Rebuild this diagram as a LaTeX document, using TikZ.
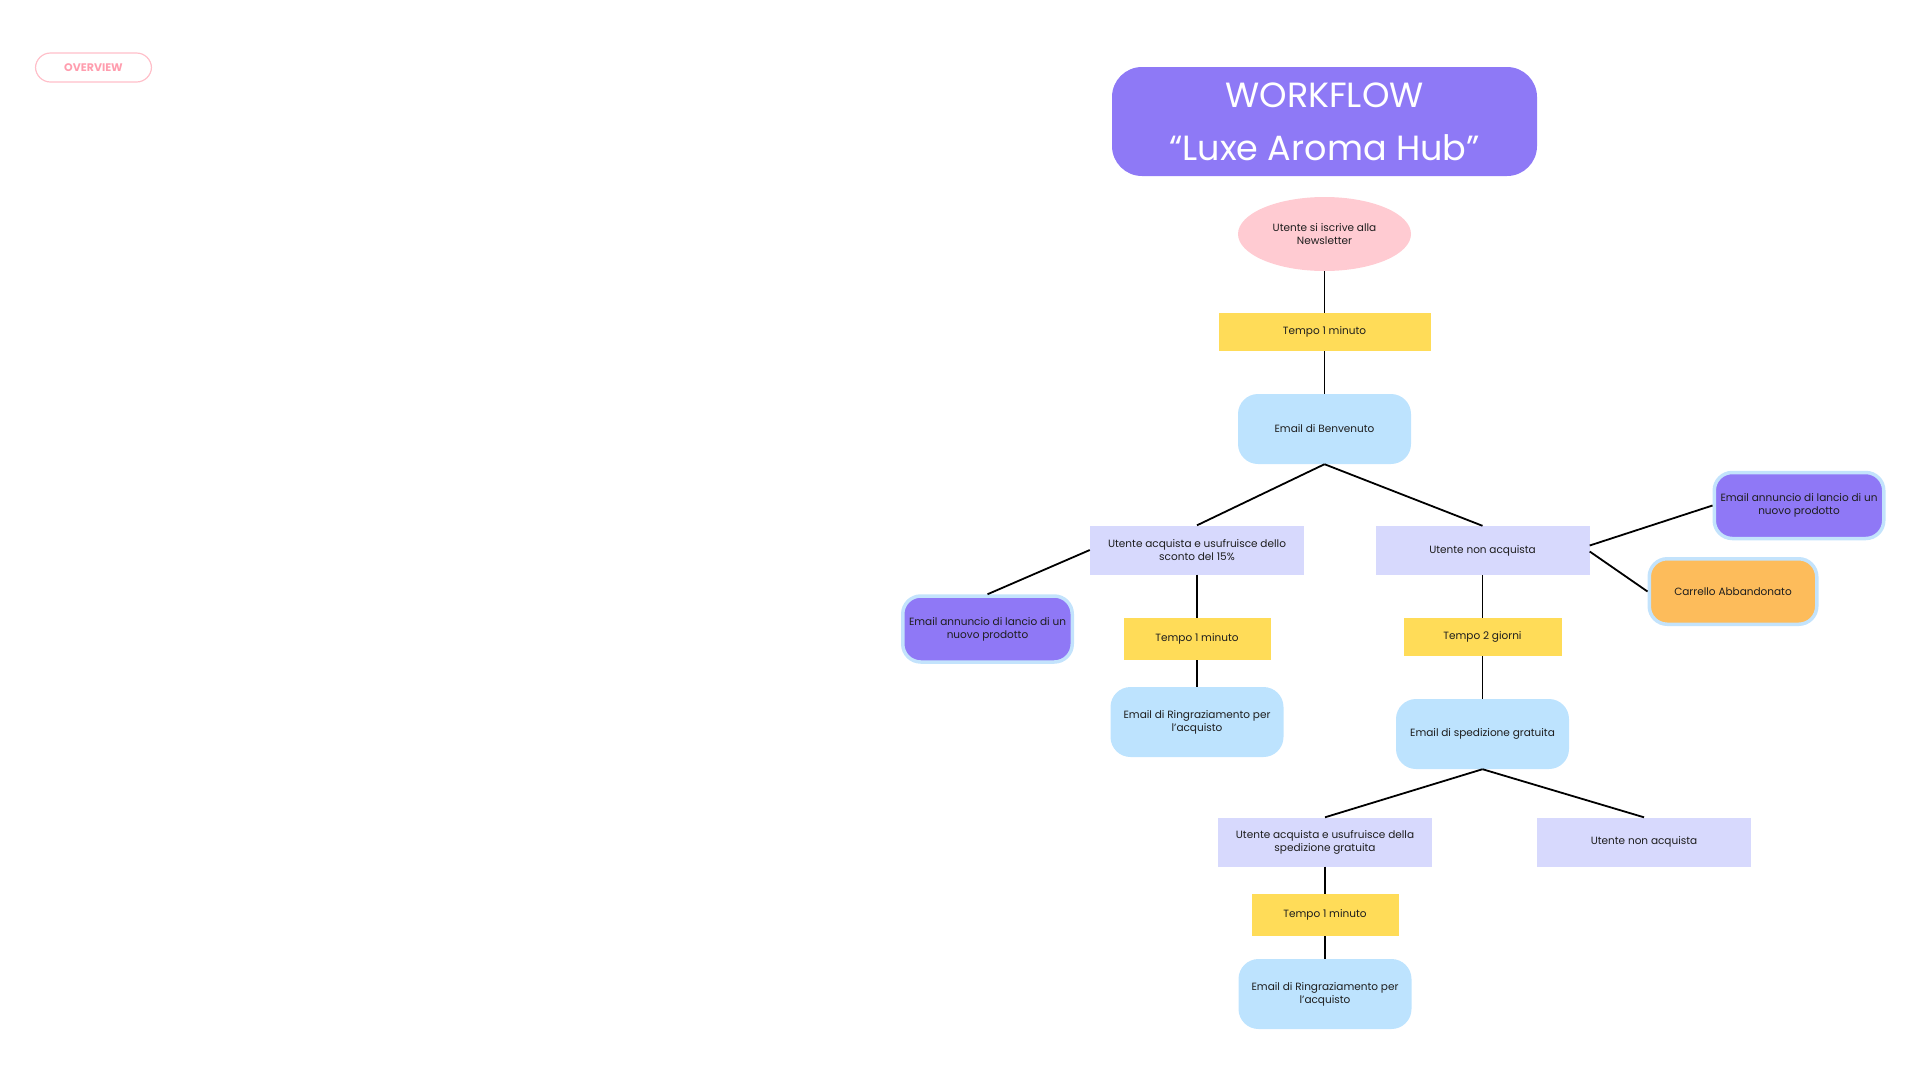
\documentclass[tikz,border=0pt]{standalone}
\usepackage{fontspec}
\setmainfont{Poppins}
\usetikzlibrary{shapes.geometric}

\definecolor{ink}{HTML}{1E1E1E}
\definecolor{titlepurple}{HTML}{8E79F6}
\definecolor{ovalpink}{HTML}{FFCBD2}
\definecolor{waityellow}{HTML}{FFDC58}
\definecolor{mailblue}{HTML}{BDE3FE}
\definecolor{choicelilac}{HTML}{D7D9FD}
\definecolor{launchpurple}{HTML}{8F78F6}
\definecolor{launchrim}{HTML}{C3E3FC}
\definecolor{cartorange}{HTML}{FDBC5B}
\definecolor{tagpink}{HTML}{FFBFC9}
\definecolor{tagtext}{HTML}{FF9DAE}

\newcommand\boxfont{\fontsize{10.5}{13}\selectfont}

\tikzset{
  link/.style={line width=1.8pt, black},
  tag/.style={rectangle, rounded corners=15pt, draw=tagpink, line width=1.2pt,
    minimum width=116pt, minimum height=29pt, text=tagtext,
    font=\fontsize{11}{13}\selectfont\bfseries},
  title box/.style={rectangle, rounded corners=30pt, fill=titlepurple,
    minimum width=425pt, minimum height=109pt, text=white, align=center,
    font=\fontsize{35}{53}\selectfont},
  start oval/.style={ellipse, fill=ovalpink, minimum width=173pt,
    minimum height=74pt, inner sep=0pt, align=center, text=ink, font=\boxfont},
  wait box/.style={rectangle, fill=waityellow, minimum width=147pt,
    minimum height=42pt, align=center, text=ink, font=\boxfont},
  mail box/.style={rectangle, rounded corners=20pt, fill=mailblue,
    minimum width=173pt, minimum height=70pt, align=center, text=ink, font=\boxfont},
  choice box/.style={rectangle, fill=choicelilac, minimum width=214pt,
    minimum height=49pt, align=center, text=ink, font=\boxfont},
  launch box/.style={rectangle, rounded corners=18pt, fill=launchpurple,
    draw=launchrim, line width=3.5pt, minimum width=169.5pt,
    minimum height=66pt, align=center, text=ink, font=\boxfont},
}

\begin{document}
\begin{tikzpicture}[x=1pt, y=-1pt]
  \useasboundingbox (0,0) rectangle (1920,1080);

  % tag and title
  \node (overview) [tag] at (93.5,67.5) {OVERVIEW};
  \node (title) [title box] at (1324.5,121.5) {WORKFLOW\\“Luxe Aroma Hub”};

  % main column
  \node (signup) [start oval] at (1324.5,234) {Utente si iscrive alla\\Newsletter};
  \node (wait top) [wait box, minimum width=212pt, minimum height=38pt]
    at (1324.5,332) {Tempo 1 minuto};
  \node (welcome) [mail box] at (1324.5,429) {Email di Benvenuto};

  % first split
  \node (buy discount) [choice box] at (1197,550)
    {Utente acquista e usufruisce dello\\sconto del 15\%};
  \node (no buy) [choice box] at (1482.5,550.5) {Utente non acquista};

  % left branch
  \node (launch left) [launch box] at (987.5,629)
    {Email annuncio di lancio di un\\nuovo prodotto};
  \node (wait left) [wait box] at (1197,639) {Tempo 1 minuto};
  \node (thanks left) [mail box] at (1197,722)
    {Email di Ringraziamento per\\l’acquisto};

  % right branch
  \node (launch right) [launch box] at (1799,505.5)
    {Email annuncio di lancio di un\\nuovo prodotto};
  \node (cart) [launch box, fill=cartorange, minimum width=167.5pt,
    minimum height=65.5pt] at (1733,591.5) {Carrello Abbandonato};
  \node (wait right) [wait box, minimum width=158pt, minimum height=38pt]
    at (1482.5,637) {Tempo 2 giorni};
  \node (shipping) [mail box] at (1482.5,734) {Email di spedizione gratuita};

  % second split
  \node (buy shipping) [choice box] at (1325,842)
    {Utente acquista e usufruisce della\\spedizione gratuita};
  \node (no buy again) [choice box] at (1644,842) {Utente non acquista};
  \node (wait bottom) [wait box] at (1325,915) {Tempo 1 minuto};
  \node (thanks bottom) [mail box] at (1325,994)
    {Email di Ringraziamento per\\l’acquisto};

  % connectors
  \draw [link] (signup.south) -- (wait top.north);
  \draw [link] (wait top.south) -- (welcome.north);
  \draw [link] (welcome.south) -- (buy discount.north);
  \draw [link] (welcome.south) -- (no buy.north);

  \draw [link] (buy discount.west) -- (launch left.north);
  \draw [link] (buy discount.south) -- (wait left.north);
  \draw [link] (wait left.south) -- (thanks left.north);

  \draw [link] ([yshift=5pt]no buy.east) -- (launch right.west);
  \draw [link] ([yshift=-1pt]no buy.east) -- (cart.west);
  \draw [link] (no buy.south) -- (wait right.north);
  \draw [link] (wait right.south) -- (shipping.north);

  \draw [link] (shipping.south) -- (buy shipping.north);
  \draw [link] (shipping.south) -- (no buy again.north);
  \draw [link] (buy shipping.south) -- (wait bottom.north);
  \draw [link] (wait bottom.south) -- (thanks bottom.north);
\end{tikzpicture}
\end{document}
